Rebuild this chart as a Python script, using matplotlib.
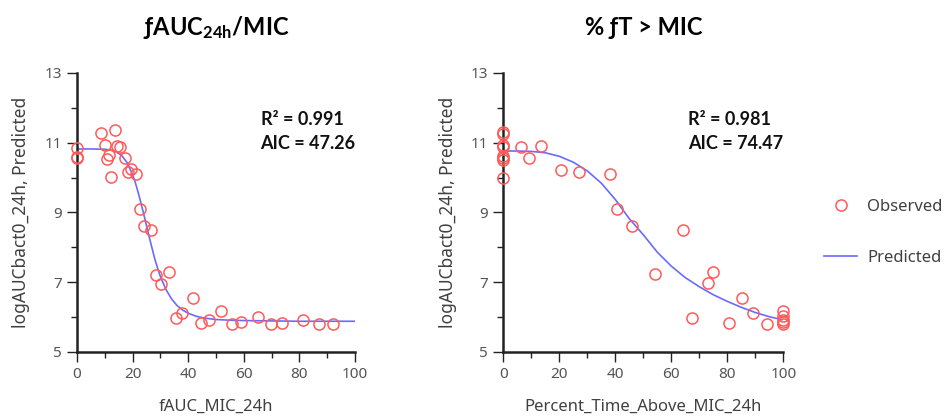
import numpy as np
import matplotlib
matplotlib.use("Agg")
import matplotlib.pyplot as plt
from matplotlib.lines import Line2D
from matplotlib.ticker import FixedLocator, MultipleLocator

# observed points, left panel (fAUC/MIC)
auc_x = [0, 0, 0, 8.7, 9.9, 11.4, 10.9, 12.3, 13.5, 14.4, 15.6, 17.1, 18.3, 19.5,
         21.3, 22.8, 24.2, 26.6, 28.5, 30.2, 33.2, 35.7, 37.8, 41.6, 44.6, 47.3,
         51.9, 55.8, 59.0, 65.0, 69.6, 73.8, 81.3, 86.9, 92.1]
auc_y = [10.84, 10.60, 10.56, 11.29, 10.94, 10.65, 10.53, 10.01, 11.35, 10.91,
         10.89, 10.56, 10.17, 10.24, 10.10, 9.09, 8.62, 8.50, 7.22, 6.96, 7.28,
         5.98, 6.12, 6.54, 5.82, 5.93, 6.17, 5.81, 5.86, 6.01, 5.80, 5.83, 5.93,
         5.79, 5.80]

# predicted curve, left panel
auc_fit_x = [0, 5, 10, 12, 14, 16, 18, 20, 21, 22, 23, 24, 25, 26, 27, 28, 29, 30,
             32, 34, 36, 38, 40, 43, 46, 50, 55, 60, 70, 80, 90, 100]
auc_fit_y = [10.82, 10.82, 10.81, 10.79, 10.74, 10.64, 10.43, 10.08, 9.85, 9.57,
             9.27, 8.95, 8.62, 8.29, 7.97, 7.66, 7.40, 7.16, 6.79, 6.52, 6.33,
             6.20, 6.11, 6.02, 5.97, 5.93, 5.91, 5.90, 5.89, 5.88, 5.88, 5.88]

# observed points, right panel (%fT > MIC)
ft_x = [0, 0, 0, 0, 0, 0, 0, 0, 6.3, 9.2, 13.4, 20.5, 27.0, 38.1, 40.5, 45.9,
        54.0, 64.3, 67.3, 73.0, 74.8, 80.7, 85.1, 89.1, 94.1,
        100, 100, 100, 100, 100]
ft_y = [11.32, 11.26, 10.94, 10.88, 10.62, 10.56, 10.51, 10.00, 10.88, 10.56,
        10.91, 10.21, 10.16, 10.10, 9.09, 8.62, 7.23, 8.49, 5.97, 6.97, 7.28,
        5.84, 6.54, 6.12, 5.81, 6.17, 6.02, 5.93, 5.85, 5.80]

# predicted curve, right panel
ft_fit_x = [0, 5, 10, 15, 20, 25, 30, 35, 40, 45, 50, 55, 60, 65, 70, 75, 80,
            85, 90, 95, 100]
ft_fit_y = [10.76, 10.76, 10.75, 10.71, 10.61, 10.44, 10.19, 9.84, 9.37, 8.82,
            8.36, 7.86, 7.46, 7.13, 6.87, 6.64, 6.45, 6.28, 6.13, 6.01, 5.92]

titles = [r"ƒAUC$_{\mathrm{24h}}$/MIC", "% ƒT > MIC"]
xlabels = ["fAUC_MIC_24h", "Percent_Time_Above_MIC_24h"]
stats = [("0.991", "47.26"), ("0.981", "74.47")]
yticks_major = [5, 7, 9, 11, 13]
yticks_minor = [6, 8, 10, 12]

ylabel = "logAUCbact0_24h, Predicted"
obs_color = "#ff5a5a"
fit_color = "#6a6aff"
txt_color = "#404040"

plt.rcParams["font.family"] = ["Noto Sans", "DejaVu Sans"]
plt.rcParams["mathtext.fontset"] = "custom"
plt.rcParams["mathtext.rm"] = "Lato:bold"
plt.rcParams["mathtext.default"] = "rm"

fig = plt.figure(figsize=(9.45, 4.19), dpi=100)
axes = [fig.add_axes([0.0815, 0.160, 0.2942, 0.666]),
        fig.add_axes([0.5326, 0.160, 0.2963, 0.666])]

data = [(auc_x, auc_y, auc_fit_x, auc_fit_y), (ft_x, ft_y, ft_fit_x, ft_fit_y)]

for i, ax in enumerate(axes):
    ox, oy, fx, fy = data[i]
    ax.plot(fx, fy, color=fit_color, lw=1.2, zorder=2)
    ax.plot(ox, oy, "o", mfc="none", mec=obs_color, mew=1.1, ms=8,
            clip_on=False, zorder=3)

    ax.set_xlim(0, 100)
    ax.set_ylim(5, 13)
    for s in ["top", "right"]:
        ax.spines[s].set_visible(False)
    for s in ["left", "bottom"]:
        ax.spines[s].set_linewidth(1.8)
        ax.spines[s].set_color("#222222")

    ax.xaxis.set_major_locator(MultipleLocator(20))
    ax.xaxis.set_minor_locator(MultipleLocator(10))
    ax.yaxis.set_major_locator(FixedLocator(yticks_major))
    ax.yaxis.set_minor_locator(FixedLocator(yticks_minor))
    ax.tick_params(which="major", length=7, width=1, color="#222222",
                   labelsize=11, labelcolor="#555555", pad=4)
    ax.tick_params(which="minor", length=4, width=1, color="#222222")

    ax.set_xlabel(xlabels[i], fontsize=12, color=txt_color, labelpad=12)
    ax.set_ylabel(ylabel, fontsize=12.5, color=txt_color, labelpad=10)
    ax.set_title(titles[i], fontsize=17, fontweight="bold",
                 family=["Lato", "DejaVu Sans"], pad=27)

    r2, aic = stats[i]
    ax.text(0.66, 0.79, f"R² = {r2}\nAIC = {aic}", transform=ax.transAxes,
            fontsize=13, fontweight="bold", color="#111111",
            family=["Lato", "DejaVu Sans"],
            linespacing=1.45, va="center", ha="left")

handles = [Line2D([], [], ls="none", marker="o", mfc="none", mec=obs_color,
                  mew=1.1, ms=8),
           Line2D([], [], color=fit_color, lw=1.2)]
fig.legend(handles, ["Observed", "Predicted"], loc="center left",
           bbox_to_anchor=(0.865, 0.446), frameon=False, fontsize=12,
           labelspacing=2.1, handlelength=2.0, handletextpad=0.6,
           labelcolor=txt_color, borderaxespad=0)

fig.savefig("out.png", dpi=100)
